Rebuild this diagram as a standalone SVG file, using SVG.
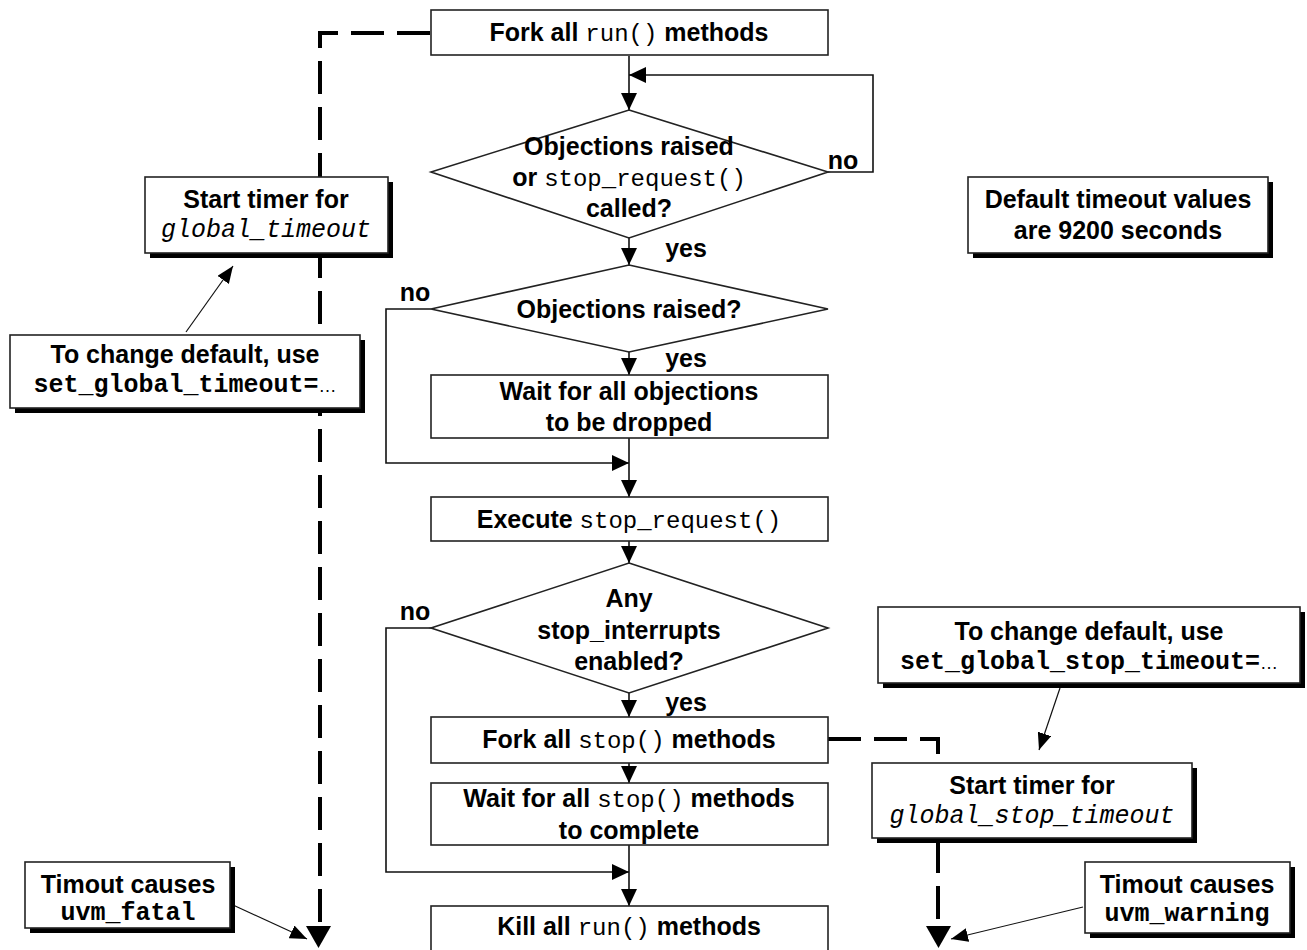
<svg xmlns="http://www.w3.org/2000/svg" width="1307" height="950" viewBox="0 0 1307 950">
  <style>
    .t { font-family: "Liberation Sans", Arial, sans-serif; font-weight: bold; font-size: 25px; text-anchor: middle; fill: #000; }
    .m { font-family: "Liberation Mono", "Courier New", monospace; font-weight: normal; font-size: 24px; }
    .mb { font-family: "Liberation Mono", "Courier New", monospace; font-weight: bold; font-size: 25px; }
    .mi { font-family: "Liberation Mono", "Courier New", monospace; font-style: italic; font-weight: normal; font-size: 25px; }
    .ell { font-family: "Liberation Sans", Arial, sans-serif; font-weight: normal; font-size: 18px; }
    .box { fill: #fff; stroke: #222; stroke-width: 1.6; }
    .shadow { fill: #000; }
    .flow { fill: none; stroke: #111; stroke-width: 1.6; }
    .dash { fill: none; stroke: #000; stroke-width: 4; stroke-dasharray: 33 13; }
    .note { fill: none; stroke: #111; stroke-width: 1.2; }
    .head { fill: #000; }
  </style>
  <defs>
    <marker id="arrow" markerUnits="userSpaceOnUse" markerWidth="18" markerHeight="16" refX="17" refY="8" orient="auto">
      <path d="M0,0 L17,8 L0,16 Z" fill="#000"/>
    </marker>
    <marker id="arrowThin" markerUnits="userSpaceOnUse" markerWidth="18" markerHeight="14" refX="17" refY="7" orient="auto">
      <path d="M0,0 L17,7 L0,14 Z" fill="#000"/>
    </marker>
  </defs>

  <rect width="1307" height="950" fill="#fff"/>

  <!-- connectors -->
  <g id="connectors">
    <!-- main flow -->
    <path class="flow" d="M629,56 V110" marker-end="url(#arrow)"/>
    <path class="flow" d="M828,172 H873 V75 H629" marker-end="url(#arrow)"/>
    <path class="flow" d="M629,238 V265" marker-end="url(#arrow)"/>
    <path class="flow" d="M629,352 V375" marker-end="url(#arrow)"/>
    <path class="flow" d="M431,309 H386 V463 H629" marker-end="url(#arrow)"/>
    <path class="flow" d="M629,438 V497" marker-end="url(#arrow)"/>
    <path class="flow" d="M629,541 V563" marker-end="url(#arrow)"/>
    <path class="flow" d="M629,693 V717" marker-end="url(#arrow)"/>
    <path class="flow" d="M629,763 V783" marker-end="url(#arrow)"/>
    <path class="flow" d="M431,628 H386 V872 H629" marker-end="url(#arrow)"/>
    <path class="flow" d="M629,845 V906" marker-end="url(#arrow)"/>

    <!-- timeout paths -->
    <path class="dash" d="M430,33 H320 V928"/>
    <path class="head" d="M306,926 L331,926 L318.5,948 Z"/>
    <path class="dash" d="M828,739 H938 V763"/>
    <path class="dash" d="M938,840 V928"/>
    <path class="head" d="M926,926 L951,926 L938.5,948 Z"/>

    <!-- annotation pointers -->
    <path class="note" d="M186,332 L233,266" marker-end="url(#arrowThin)"/>
    <path class="note" d="M1060,688 L1039,750" marker-end="url(#arrowThin)"/>
    <path class="note" d="M1083,907 L951,939" marker-end="url(#arrowThin)"/>
    <path class="note" d="M233,905 L307,939" marker-end="url(#arrowThin)"/>
  </g>

  <!-- flow nodes -->
  <g id="fork-run">
    <rect class="box" x="431" y="10" width="397" height="45"/>
    <text class="t" x="629" y="41">Fork all <tspan class="m">run()</tspan> methods</text>
  </g>

  <g id="decide-any">
    <polygon class="box" points="629,110 828,172 629,238 431,172"/>
    <text class="t" x="629" y="155">Objections raised</text>
    <text class="t" x="629" y="186">or <tspan class="m">stop_request()</tspan></text>
    <text class="t" x="629" y="217">called?</text>
    <text class="t" x="843" y="169">no</text>
    <text class="t" x="686" y="257">yes</text>
  </g>

  <g id="decide-objections">
    <polygon class="box" points="629,265 828,309 629,352 431,309"/>
    <text class="t" x="629" y="318">Objections raised?</text>
    <text class="t" x="415" y="301">no</text>
    <text class="t" x="686" y="367">yes</text>
  </g>

  <g id="wait-objections">
    <rect class="box" x="431" y="375" width="397" height="63"/>
    <text class="t" x="629" y="400">Wait for all objections</text>
    <text class="t" x="629" y="431">to be dropped</text>
  </g>

  <g id="execute-stop-request">
    <rect class="box" x="431" y="497" width="397" height="44"/>
    <text class="t" x="629" y="528">Execute <tspan class="m">stop_request()</tspan></text>
  </g>

  <g id="decide-interrupts">
    <polygon class="box" points="629,563 828,628 629,693 431,628"/>
    <text class="t" x="629" y="607">Any</text>
    <text class="t" x="629" y="639">stop_interrupts</text>
    <text class="t" x="629" y="670">enabled?</text>
    <text class="t" x="415" y="620">no</text>
    <text class="t" x="686" y="711">yes</text>
  </g>

  <g id="fork-stop">
    <rect class="box" x="431" y="717" width="397" height="46"/>
    <text class="t" x="629" y="748">Fork all <tspan class="m">stop()</tspan> methods</text>
  </g>

  <g id="wait-stop">
    <rect class="box" x="431" y="783" width="397" height="62"/>
    <text class="t" x="629" y="807">Wait for all <tspan class="m">stop()</tspan> methods</text>
    <text class="t" x="629" y="839">to complete</text>
  </g>

  <g id="kill-run">
    <rect class="box" x="431" y="906" width="397" height="50"/>
    <text class="t" x="629" y="935">Kill all <tspan class="m">run()</tspan> methods</text>
  </g>

  <!-- annotation boxes with drop shadows -->
  <g id="timer-global">
    <rect class="shadow" x="150" y="182" width="243" height="76"/>
    <rect class="box" x="145" y="177" width="243" height="76"/>
    <text class="t" x="266" y="208">Start timer for</text>
    <text class="t" x="266" y="237"><tspan class="mi">global_timeout</tspan></text>
  </g>

  <g id="note-global">
    <rect class="shadow" x="15" y="340" width="350" height="73"/>
    <rect class="box" x="10" y="335" width="350" height="73"/>
    <text class="t" x="185" y="363">To change default, use</text>
    <text class="t" x="185" y="392"><tspan class="mb">set_global_timeout=</tspan><tspan class="ell">…</tspan></text>
  </g>

  <g id="note-defaults">
    <rect class="shadow" x="973" y="182" width="300" height="76"/>
    <rect class="box" x="968" y="177" width="300" height="76"/>
    <text class="t" x="1118" y="208">Default timeout values</text>
    <text class="t" x="1118" y="239">are 9200 seconds</text>
  </g>

  <g id="note-stop">
    <rect class="shadow" x="883" y="612" width="422" height="76"/>
    <rect class="box" x="878" y="607" width="422" height="76"/>
    <text class="t" x="1089" y="640">To change default, use</text>
    <text class="t" x="1089" y="669"><tspan class="mb">set_global_stop_timeout=</tspan><tspan class="ell">…</tspan></text>
  </g>

  <g id="timer-stop">
    <rect class="shadow" x="877" y="768" width="320" height="75"/>
    <rect class="box" x="872" y="763" width="320" height="75"/>
    <text class="t" x="1032" y="794">Start timer for</text>
    <text class="t" x="1032" y="823"><tspan class="mi">global_stop_timeout</tspan></text>
  </g>

  <g id="note-warning">
    <rect class="shadow" x="1090" y="867" width="205" height="71"/>
    <rect class="box" x="1085" y="862" width="205" height="71"/>
    <text class="t" x="1187" y="893">Timout causes</text>
    <text class="t" x="1187" y="921"><tspan class="mb">uvm_warning</tspan></text>
  </g>

  <g id="note-fatal">
    <rect class="shadow" x="30" y="867" width="205" height="66"/>
    <rect class="box" x="25" y="862" width="205" height="66"/>
    <text class="t" x="128" y="893">Timout causes</text>
    <text class="t" x="128" y="920"><tspan class="mb">uvm_fatal</tspan></text>
  </g>
</svg>
